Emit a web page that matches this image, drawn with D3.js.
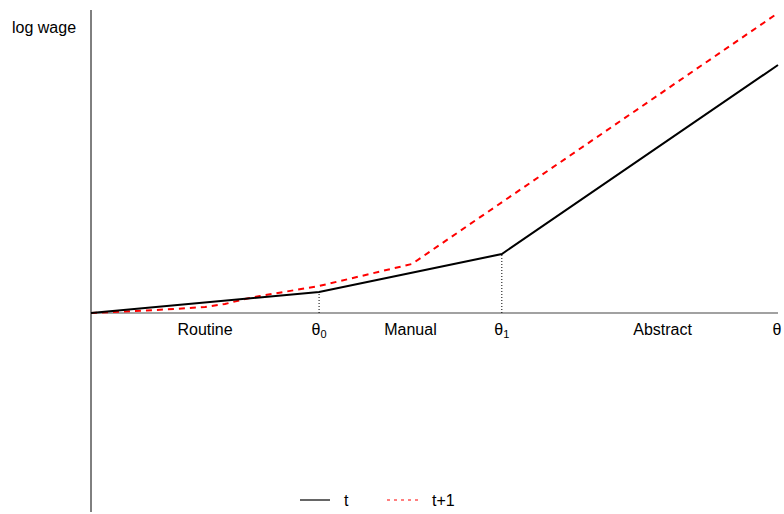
<!DOCTYPE html>
<html>
<head>
<meta charset="utf-8">
<script src="https://cdn.jsdelivr.net/npm/d3@7"></script>
<style>
  body { margin: 0; background: #fff; }
  text { font-family: "Liberation Sans", Arial, sans-serif; font-size: 16px; fill: #000; }
</style>
</head>
<body>
<svg id="chart" width="784" height="514"></svg>
<script>
// skill thresholds (share of the skill range)
var theta0 = 0.332;
var theta1 = 0.598;

// log wage at time t (piecewise linear)
var wageT_x = [0, theta0, theta1, 1];
var wageT_y = [0, 0.21, 0.59, 2.48];

// log wage at time t+1
var wageT1_x = [0, 0.064, 0.122, 0.166, 0.195, 0.224, 0.246, 0.332, 0.467, 1];
var wageT1_y = [0, 0.02, 0.04, 0.06, 0.09, 0.14, 0.17, 0.27, 0.49, 3.0];

// labels along the axis
var regionNames = ["Routine", "Manual", "Abstract"];
var regionPos = [0.166, 0.465, 0.832];

var svg = d3.select("#chart");

var x = d3.scaleLinear().domain([0, 1]).range([91, 778]);
var y = d3.scaleLinear().domain([-1.99, 3.03]).range([512, 10]);

var line = d3.line()
  .x(function(d) { return x(d[0]); })
  .y(function(d) { return y(d[1]); });

// axes
svg.append("line")
  .attr("x1", x(0)).attr("x2", x(0))
  .attr("y1", y(3.03)).attr("y2", y(-1.99))
  .attr("stroke", "#000").attr("stroke-width", 1);

svg.append("line")
  .attr("x1", x(0)).attr("x2", x(1))
  .attr("y1", y(0)).attr("y2", y(0))
  .attr("stroke", "#444").attr("stroke-width", 1.2);

// dotted guides at the thresholds
[1, 2].forEach(function(i) {
  svg.append("line")
    .attr("x1", x(wageT_x[i])).attr("x2", x(wageT_x[i]))
    .attr("y1", y(0)).attr("y2", y(wageT_y[i]))
    .attr("stroke", "#000").attr("stroke-width", 1)
    .attr("stroke-dasharray", "1,2");
});

// wage lines
svg.append("path")
  .datum(d3.zip(wageT1_x, wageT1_y))
  .attr("d", line)
  .attr("fill", "none")
  .attr("stroke", "#f00")
  .attr("stroke-width", 2)
  .attr("stroke-dasharray", "6,5");

svg.append("path")
  .datum(d3.zip(wageT_x, wageT_y))
  .attr("d", line)
  .attr("fill", "none")
  .attr("stroke", "#000")
  .attr("stroke-width", 2);

// axis text
svg.append("text").attr("x", 12).attr("y", 33).text("log wage");

regionNames.forEach(function(name, i) {
  svg.append("text")
    .attr("x", x(regionPos[i])).attr("y", y(0) + 22)
    .attr("text-anchor", "middle")
    .text(name);
});

function thetaLabel(px, sub) {
  var t = svg.append("text")
    .attr("x", px).attr("y", y(0) + 22)
    .attr("text-anchor", "middle");
  t.append("tspan").text("θ");
  if (sub !== null) {
    t.append("tspan").attr("dy", 3).style("font-size", "11px").text(sub);
  }
}
thetaLabel(x(theta0), "0");
thetaLabel(x(theta1), "1");
thetaLabel(x(1) - 1, null);

// legend
var legend = svg.append("g").attr("transform", "translate(300,500)");
legend.append("line").attr("x1", 0).attr("x2", 30).attr("y1", 0).attr("y2", 0)
  .attr("stroke", "#000").attr("stroke-width", 1.2);
legend.append("text").attr("x", 44).attr("y", 6).text("t");
legend.append("line").attr("x1", 87).attr("x2", 118).attr("y1", 0).attr("y2", 0)
  .attr("stroke", "#f00").attr("stroke-width", 1.2).attr("stroke-dasharray", "3,4");
legend.append("text").attr("x", 132).attr("y", 6).text("t+1");
</script>
</body>
</html>
